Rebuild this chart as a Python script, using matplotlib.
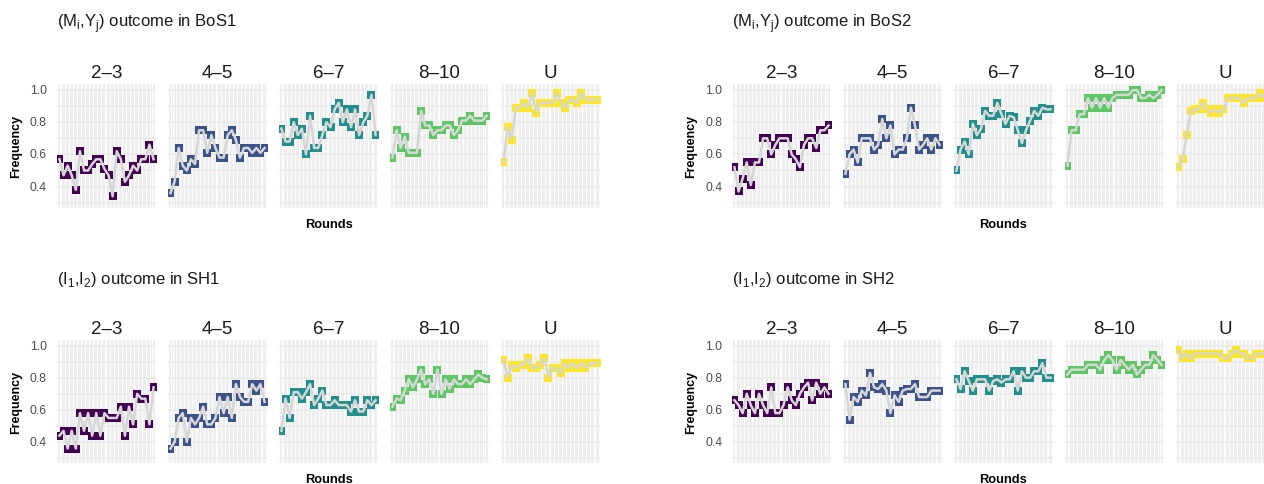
import numpy as np
import matplotlib.pyplot as plt

plt.rcParams['font.family'] = ['Liberation Sans', 'DejaVu Sans']

# --- data: share of the outcome per round, one list per group size ---
groups = ["2–3", "4–5", "6–7", "8–10", "U"]
colors = ["#440154", "#3B528B", "#21908C", "#5DC863", "#FDE725"]
rounds = np.arange(1, 25)
yticks = [0.4, 0.6, 0.8, 1.0]

bos1 = [
    [0.57, 0.47, 0.53, 0.47, 0.38, 0.62, 0.50, 0.50, 0.54, 0.57, 0.57, 0.51,
     0.47, 0.34, 0.62, 0.57, 0.43, 0.47, 0.53, 0.50, 0.57, 0.57, 0.66, 0.57],
    [0.36, 0.43, 0.64, 0.53, 0.50, 0.57, 0.54, 0.75, 0.75, 0.61, 0.72, 0.64,
     0.58, 0.58, 0.72, 0.75, 0.69, 0.58, 0.64, 0.64, 0.61, 0.64, 0.61, 0.64],
    [0.76, 0.68, 0.68, 0.80, 0.72, 0.76, 0.60, 0.84, 0.64, 0.64, 0.72, 0.80,
     0.77, 0.88, 0.92, 0.80, 0.88, 0.77, 0.88, 0.72, 0.80, 0.84, 0.97, 0.72],
    [0.58, 0.75, 0.64, 0.71, 0.61, 0.61, 0.61, 0.87, 0.78, 0.78, 0.72, 0.75,
     0.75, 0.78, 0.78, 0.72, 0.75, 0.81, 0.81, 0.84, 0.81, 0.81, 0.81, 0.84],
    [0.55, 0.77, 0.69, 0.89, 0.89, 0.92, 0.89, 0.98, 0.86, 0.92, 0.92, 0.92,
     0.92, 0.98, 0.92, 0.89, 0.94, 0.94, 0.92, 0.98, 0.94, 0.94, 0.94, 0.94],
]

bos2 = [
    [0.52, 0.37, 0.45, 0.55, 0.41, 0.55, 0.55, 0.70, 0.70, 0.60, 0.66, 0.70,
     0.70, 0.70, 0.60, 0.57, 0.52, 0.66, 0.70, 0.70, 0.64, 0.75, 0.75, 0.78],
    [0.48, 0.60, 0.63, 0.55, 0.70, 0.70, 0.70, 0.63, 0.66, 0.82, 0.70, 0.78,
     0.60, 0.63, 0.63, 0.70, 0.89, 0.78, 0.63, 0.66, 0.70, 0.63, 0.70, 0.66],
    [0.50, 0.63, 0.68, 0.60, 0.79, 0.72, 0.76, 0.87, 0.84, 0.84, 0.92, 0.85,
     0.79, 0.84, 0.83, 0.75, 0.67, 0.75, 0.81, 0.87, 0.84, 0.89, 0.88, 0.88],
    [0.53, 0.75, 0.75, 0.85, 0.85, 0.95, 0.89, 0.95, 0.89, 0.95, 0.89, 0.95,
     0.97, 0.97, 0.97, 0.97, 1.00, 1.00, 0.95, 0.95, 0.97, 0.95, 0.97, 1.00],
    [0.52, 0.57, 0.72, 0.87, 0.88, 0.88, 0.92, 0.88, 0.86, 0.88, 0.86, 0.88,
     0.95, 0.95, 0.95, 0.95, 0.92, 0.95, 0.95, 0.95, 0.98, 0.95, 0.95, 0.95],
]

sh1 = [
    [0.44, 0.47, 0.36, 0.47, 0.36, 0.58, 0.47, 0.58, 0.44, 0.58, 0.44, 0.58,
     0.55, 0.55, 0.55, 0.62, 0.44, 0.62, 0.51, 0.70, 0.67, 0.67, 0.51, 0.74],
    [0.36, 0.40, 0.55, 0.58, 0.40, 0.55, 0.51, 0.55, 0.62, 0.51, 0.51, 0.55,
     0.68, 0.58, 0.68, 0.55, 0.76, 0.68, 0.65, 0.65, 0.76, 0.72, 0.76, 0.65],
    [0.47, 0.67, 0.55, 0.71, 0.71, 0.67, 0.71, 0.76, 0.63, 0.67, 0.72, 0.63,
     0.63, 0.66, 0.63, 0.63, 0.63, 0.59, 0.66, 0.59, 0.59, 0.66, 0.63, 0.66],
    [0.62, 0.67, 0.66, 0.72, 0.79, 0.74, 0.79, 0.85, 0.76, 0.79, 0.70, 0.85,
     0.70, 0.79, 0.73, 0.79, 0.76, 0.76, 0.79, 0.76, 0.79, 0.82, 0.80, 0.79],
    [0.91, 0.80, 0.88, 0.86, 0.88, 0.88, 0.92, 0.86, 0.86, 0.88, 0.92, 0.80,
     0.86, 0.86, 0.83, 0.89, 0.86, 0.89, 0.86, 0.89, 0.86, 0.89, 0.89, 0.89],
]

sh2 = [
    [0.66, 0.63, 0.58, 0.70, 0.63, 0.58, 0.70, 0.63, 0.58, 0.74, 0.58, 0.58,
     0.63, 0.74, 0.66, 0.63, 0.70, 0.74, 0.77, 0.66, 0.77, 0.70, 0.74, 0.70],
    [0.76, 0.54, 0.68, 0.65, 0.72, 0.69, 0.83, 0.74, 0.73, 0.76, 0.72, 0.58,
     0.69, 0.65, 0.72, 0.73, 0.73, 0.76, 0.68, 0.68, 0.68, 0.72, 0.72, 0.72],
    [0.79, 0.73, 0.84, 0.78, 0.72, 0.79, 0.79, 0.79, 0.72, 0.78, 0.79, 0.77,
     0.79, 0.79, 0.84, 0.72, 0.84, 0.80, 0.80, 0.84, 0.84, 0.89, 0.80, 0.80],
    [0.82, 0.85, 0.85, 0.85, 0.85, 0.88, 0.88, 0.88, 0.85, 0.91, 0.94, 0.91,
     0.85, 0.91, 0.88, 0.85, 0.88, 0.82, 0.85, 0.88, 0.88, 0.94, 0.91, 0.88],
    [0.97, 0.92, 0.95, 0.92, 0.95, 0.95, 0.95, 0.95, 0.95, 0.95, 0.95, 0.92,
     0.92, 0.95, 0.97, 0.95, 0.95, 0.92, 0.92, 0.95, 0.95, 0.95, 0.95, 0.95],
]

titles = [r"(M$_\mathregular{i}$,Y$_\mathregular{j}$) outcome in BoS1",
          r"(M$_\mathregular{i}$,Y$_\mathregular{j}$) outcome in BoS2",
          r"(I$_\mathregular{1}$,I$_\mathregular{2}$) outcome in SH1",
          r"(I$_\mathregular{1}$,I$_\mathregular{2}$) outcome in SH2"]

# --- layout in pixels ---
W, H = 1264, 485
fig = plt.figure(figsize=(W / 100, H / 100), dpi=100)

PW, PH, STEP = 99, 123.5, 111
GRID = "#EBEBEB"


def fx(x):
    return x / W


def fy(y):
    return 1 - y / H


def draw_block(data, title, left, top):
    for k, (vals, lab, col) in enumerate(zip(data, groups, colors)):
        x0 = left + k * STEP
        ax = fig.add_axes([fx(x0), fy(top + PH), PW / W, PH / H])
        ax.set_xlim(0.4, len(rounds) + 0.6)
        ax.set_ylim(0.27, 1.0375)
        for v in np.arange(0.3, 1.01, 0.1):
            ax.axhline(v, color=GRID, lw=1.1, zorder=0)
        for r in rounds:
            ax.axvline(r, color=GRID, lw=1.1, zorder=0)
        for r in rounds[:-1] + 0.5:
            ax.axvline(r, color=GRID, lw=0.55, zorder=0)
        ax.plot(rounds, vals, ls="none", marker="s", ms=5.4, mew=0,
                color=col, zorder=2)
        ax.plot(rounds, vals, color="#D6D6D6", lw=1.8, zorder=3)
        for s in ax.spines.values():
            s.set_visible(False)
        ax.set_xticks([])
        ax.set_yticks([])
        ax.set_title(lab, fontsize=13.5, pad=5, color="#1A1A1A")
        if k == 0:
            # tick labels sit 10 px left of the panel
            for v in yticks:
                ax.annotate(f"{v:.1f}", xy=(0, v),
                            xycoords=ax.get_yaxis_transform(),
                            xytext=(-7.2, 0), textcoords="offset points",
                            fontsize=8.7, color="#4D4D4D",
                            ha="right", va="center")
    fig.text(fx(left), fy(top - 61), title, fontsize=12, va="center",
             color="#1A1A1A")
    fig.text(fx(left - 41), fy(top + PH / 2), "Frequency", rotation=90,
             fontsize=9, fontweight="bold", ha="center", va="center")
    fig.text(fx(left + (4 * STEP + PW) / 2), fy(top + 140), "Rounds",
             fontsize=9.3, fontweight="bold", ha="center", va="center")


draw_block(bos1, titles[0], 57, 85)
draw_block(bos2, titles[1], 732, 85)
draw_block(sh1, titles[2], 57, 340.5)
draw_block(sh2, titles[3], 732, 340.5)

fig.savefig("out.png", dpi=100)
